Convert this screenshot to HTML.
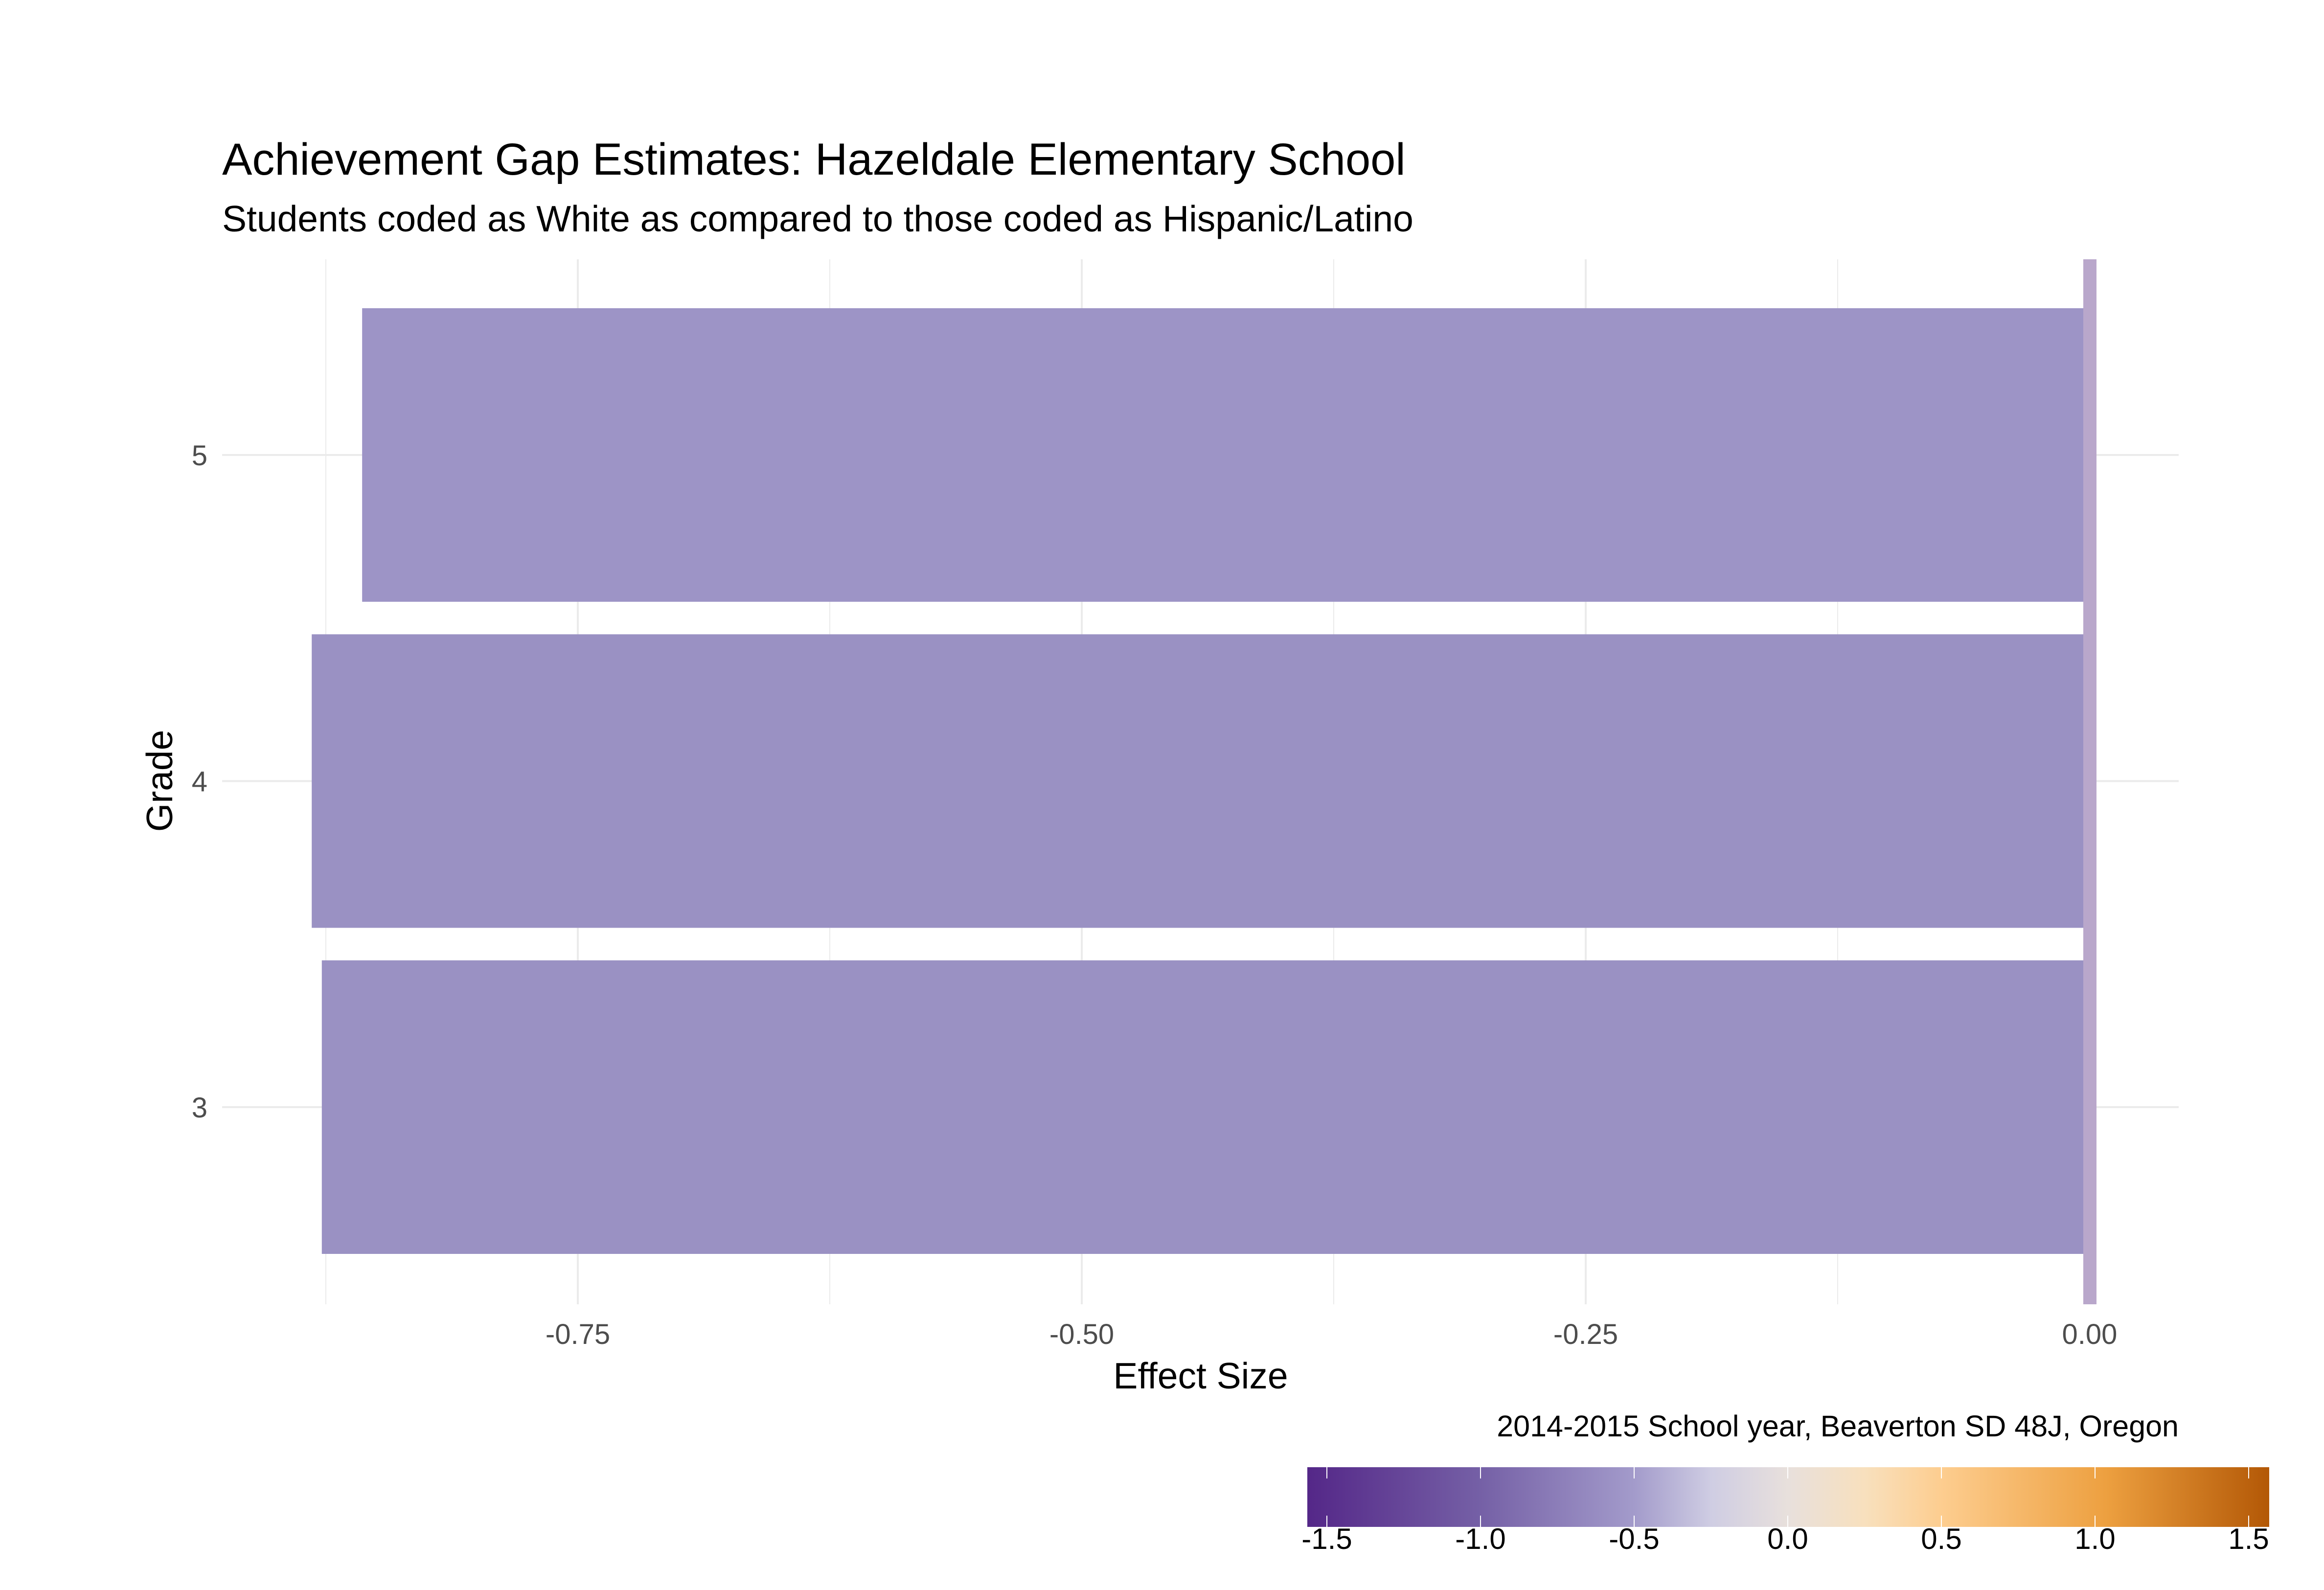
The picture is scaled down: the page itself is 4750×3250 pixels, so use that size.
<!DOCTYPE html>
<html><head><meta charset="utf-8"><style>
body{margin:0;background:#fff}
svg{display:block;font-family:"Liberation Sans",sans-serif}
</style></head><body>
<svg id="chart" width="4750" height="3250" viewBox="0 0 4750 3250" xmlns="http://www.w3.org/2000/svg">
<defs>
<linearGradient id="puor" x1="0" x2="1" y1="0" y2="0">
<stop offset="0" stop-color="#542788"/>
<stop offset="0.18" stop-color="#7560a6"/>
<stop offset="0.34" stop-color="#a39bcb"/>
<stop offset="0.42" stop-color="#cfcde3"/>
<stop offset="0.5" stop-color="#e8e0dc"/>
<stop offset="0.58" stop-color="#f8e0bd"/>
<stop offset="0.66" stop-color="#fdcd8f"/>
<stop offset="0.83" stop-color="#eda040"/>
<stop offset="1" stop-color="#b35806"/>
</linearGradient>
</defs>
<rect width="4750" height="3250" fill="#fff"/>
<text x="454" y="357" font-size="92" fill="#000">Achievement Gap Estimates: Hazeldale Elementary School</text>
<text x="454" y="473" font-size="75" fill="#000">Students coded as White as compared to those coded as Hispanic/Latino</text>
<g id="grid"></g>
<g id="bars"></g>
<g id="axes"></g>
<text x="2454" y="2838" font-size="75" text-anchor="middle" fill="#000">Effect Size</text>
<text transform="translate(352,1596) rotate(-90)" font-size="75" text-anchor="middle" fill="#000">Grade</text>
<text x="4453" y="2936" font-size="61" text-anchor="end" fill="#000">2014-2015 School year, Beaverton SD 48J, Oregon</text>
<g id="legend"></g>
</svg>
<script>
const grades = ["3", "4", "5"];
const effectSizes = [-0.877, -0.882, -0.857];
const xTicks = [-0.75, -0.5, -0.25, 0];
const xTickLabels = ["-0.75", "-0.50", "-0.25", "0.00"];
const xMinorTicks = [-0.875, -0.625, -0.375, -0.125];
const legendTicks = [-1.5, -1.0, -0.5, 0, 0.5, 1.0, 1.5];
const legendTickLabels = ["-1.5", "-1.0", "-0.5", "0.0", "0.5", "1.0", "1.5"];

const NS = "http://www.w3.org/2000/svg";
const panel = {left: 454, right: 4453, top: 530, bottom: 2666};
function xScale(v){ return 4271 + v * 4120; }
function yScale(i){ return 2263 - i * 666.5; }
const bandH = 600;
function lScale(v){ return 3654 + v * 628; }
function mk(tag, attrs, parent){
  const e = document.createElementNS(NS, tag);
  for (const k in attrs) e.setAttribute(k, attrs[k]);
  parent.appendChild(e);
  return e;
}
const grid = document.getElementById("grid");
const bars = document.getElementById("bars");
const axes = document.getElementById("axes");
const legend = document.getElementById("legend");

xMinorTicks.forEach(v => {
  const l = mk("line", {x1: xScale(v), x2: xScale(v), y1: panel.top, y2: panel.bottom, stroke: "#ebebeb", "stroke-width": 2}, grid);
  
  
});
xTicks.forEach((v, i) => {
  const l = mk("line", {x1: xScale(v), x2: xScale(v), y1: panel.top, y2: panel.bottom, stroke: "#ebebeb", "stroke-width": 4}, grid);
  
  
  const t = mk("text", {x: xScale(v), y: 2747, "font-size": 58, fill: "#4d4d4d", "text-anchor": "middle"}, axes);
  t.textContent = xTickLabels[i];
  
  
});
grades.forEach((g, i) => {
  const l = mk("line", {x1: panel.left, x2: panel.right, y1: yScale(i), y2: yScale(i), stroke: "#ebebeb", "stroke-width": 4}, grid);
  
  
  const t = mk("text", {x: 424, y: yScale(i) + 21, "font-size": 58, fill: "#4d4d4d", "text-anchor": "end"}, axes);
  t.textContent = g;
  
  
});
grades.forEach((g, i) => {
  const x0 = xScale(effectSizes[i]), x1 = xScale(0);
  const r = mk("rect", {x: Math.min(x0, x1), y: yScale(i) - bandH / 2, width: Math.abs(x1 - x0), height: bandH, fill: i === 2 ? "#9d94c6" : "#9a91c3"}, bars);
  
  
});
const band = mk("rect", {x: xScale(0) - 13, y: panel.top, width: 27, height: panel.bottom - panel.top, fill: "#b9a7cb"}, bars);



const cb = mk("rect", {x: 2672, y: 2999, width: 1966, height: 122, fill: "url(#puor)"}, legend);


legendTicks.forEach((v, i) => {
  const a = mk("line", {x1: lScale(v), x2: lScale(v), y1: 2999, y2: 3022, stroke: "#fff", "stroke-width": 2}, legend);
  
  
  const b = mk("line", {x1: lScale(v), x2: lScale(v), y1: 3098, y2: 3121, stroke: "#fff", "stroke-width": 2}, legend);
  
  
  const t = mk("text", {x: lScale(v), y: 3166, "font-size": 60, fill: "#000", "text-anchor": "middle"}, legend);
  t.textContent = legendTickLabels[i];
  
  
});
</script>
</body></html>
